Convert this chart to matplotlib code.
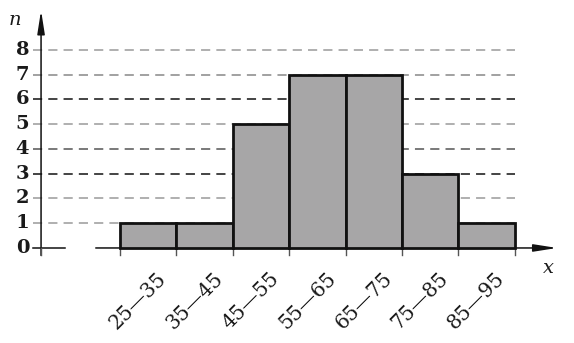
import matplotlib
matplotlib.use("Agg")
import matplotlib.pyplot as plt

# Data
bin_edges = [25, 35, 45, 55, 65, 75, 85, 95]
counts = [1, 1, 5, 7, 7, 3, 1]
labels = ["25\u201435", "35\u201445", "45\u201455", "55\u201465", "65\u201475", "75\u201485", "85\u201495"]
y_ticks = [0, 1, 2, 3, 4, 5, 6, 7, 8]
grid_colors = {1: "#9a9a9a", 2: "#9a9a9a", 3: "#111111", 4: "#555555",
               5: "#9a9a9a", 6: "#111111", 7: "#888888", 8: "#9a9a9a"}

fig = plt.figure(figsize=(5.74, 3.43), dpi=100)
ax = fig.add_axes([0, 0, 1, 1])
ax.set_xlim(3.72, 105.5)
ax.set_ylim(-3.84, 10.02)
ax.axis("off")

x_axis_pos = 11.0  # where the vertical axis sits (axis is broken)

# dashed grid lines
for y in y_ticks[1:]:
    ax.plot([9.6, 95], [y, y], color=grid_colors[y], lw=1.1, dashes=(6, 4), zorder=1)

# bars
lefts = bin_edges[:-1]
widths = [b - a for a, b in zip(bin_edges[:-1], bin_edges[1:])]
ax.bar(lefts, counts, width=widths, align="edge", color="#a7a6a7",
       edgecolor="#111111", linewidth=2.0, zorder=3)

# axes
arrow = dict(arrowstyle="-|>,head_length=1.4,head_width=0.22",
             color="#111111", lw=1.1, shrinkA=0, shrinkB=0)
ax.plot([9.6, 15.25], [0, 0], color="#111111", lw=1.1, zorder=2)
ax.annotate("", xy=(102.5, 0), xytext=(20.7, 0), arrowprops=arrow, zorder=2)
ax.annotate("", xy=(x_axis_pos, 9.6), xytext=(x_axis_pos, -0.3),
            arrowprops=arrow, zorder=2)

# small ticks below x axis
for xe in [x_axis_pos] + bin_edges:
    ax.plot([xe, xe], [0, -0.3], color="#555555", lw=1.0, zorder=2)

# y tick labels
for y in y_ticks:
    ax.text(8.9, y, str(y), ha="right", va="center", fontsize=14,
            family="DejaVu Serif", fontweight="bold", color="#1a1a1a")

# x tick labels
for left, lab in zip(lefts, labels):
    ax.text(left + 3.2, -2.15, lab, ha="center", va="center", rotation=45,
            fontsize=14.5, family="DejaVu Serif", color="#1a1a1a")

ax.text(6.3, 9.2, "n", ha="center", va="center", fontsize=14,
        family="DejaVu Serif", style="italic", color="#1a1a1a")
ax.text(101.0, -0.8, "x", ha="center", va="center", fontsize=14,
        family="DejaVu Serif", style="italic", color="#1a1a1a")

plt.savefig("out.png", dpi=100)
